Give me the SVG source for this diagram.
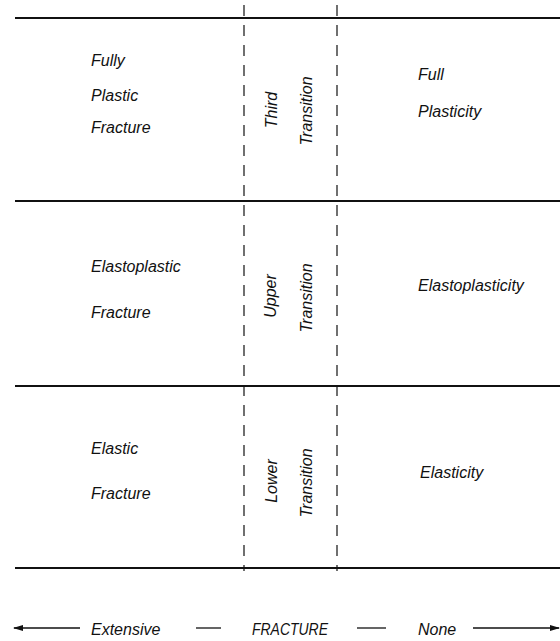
<svg xmlns="http://www.w3.org/2000/svg" width="560" height="641" viewBox="0 0 560 641">
<style>
text{font-family:"Liberation Sans",Arial,sans-serif;font-style:italic;font-size:16px;fill:#111}
.h{stroke:#111;stroke-width:2;fill:none}
.v{stroke:#111;stroke-width:1.2;stroke-dasharray:11 9;fill:none}
.a{stroke:#111;stroke-width:1.3;fill:none}
.mid{text-anchor:middle}
</style>
<defs>
<marker id="ah" viewBox="0 0 10 6" refX="9" refY="3" markerWidth="10" markerHeight="6" markerUnits="userSpaceOnUse" orient="auto">
<path d="M0,0 L10,3 L0,6 Z" fill="#111"/>
</marker>
</defs>
<g id="grid">
<line class="h" x1="15" y1="18" x2="560" y2="18"/>
<line class="h" x1="15" y1="201" x2="560" y2="201"/>
<line class="h" x1="15" y1="386" x2="560" y2="386"/>
<line class="h" x1="15" y1="568" x2="560" y2="568"/>
<line class="v" x1="244" y1="5" x2="244" y2="571"/>
<line class="v" x1="337" y1="5" x2="337" y2="571"/>
</g>
<g id="fully-plastic-fracture">
<text x="91" y="66">Fully</text>
<text x="91" y="101">Plastic</text>
<text x="91" y="133">Fracture</text>
</g>
<g id="third-transition">
<text class="mid" transform="translate(277,110) rotate(-90)">Third</text>
<text class="mid" transform="translate(312,111) rotate(-90)">Transition</text>
</g>
<g id="full-plasticity">
<text x="418" y="80">Full</text>
<text x="418" y="117">Plasticity</text>
</g>
<g id="elastoplastic-fracture">
<text x="91" y="272">Elastoplastic</text>
<text x="91" y="318">Fracture</text>
</g>
<g id="upper-transition">
<text class="mid" transform="translate(276,296) rotate(-90)">Upper</text>
<text class="mid" transform="translate(312,298) rotate(-90)">Transition</text>
</g>
<g id="elastoplasticity">
<text x="418" y="291">Elastoplasticity</text>
</g>
<g id="elastic-fracture">
<text x="91" y="454">Elastic</text>
<text x="91" y="499">Fracture</text>
</g>
<g id="lower-transition">
<text class="mid" transform="translate(277,481) rotate(-90)">Lower</text>
<text class="mid" transform="translate(312,483) rotate(-90)">Transition</text>
</g>
<g id="elasticity">
<text x="420" y="478">Elasticity</text>
</g>
<g id="connectors">
<line class="a" x1="80" y1="628" x2="14" y2="628" marker-end="url(#ah)"/>
<line class="a" x1="196" y1="628" x2="221" y2="628"/>
<line class="a" x1="357" y1="628" x2="386" y2="628"/>
<line class="a" x1="473" y1="628" x2="559" y2="628" marker-end="url(#ah)"/>
</g>
<g id="scale-labels">
<text x="91" y="635">Extensive</text>
<text x="252" y="635" textLength="76" lengthAdjust="spacingAndGlyphs">FRACTURE</text>
<text x="418" y="635">None</text>
</g>
</svg>
